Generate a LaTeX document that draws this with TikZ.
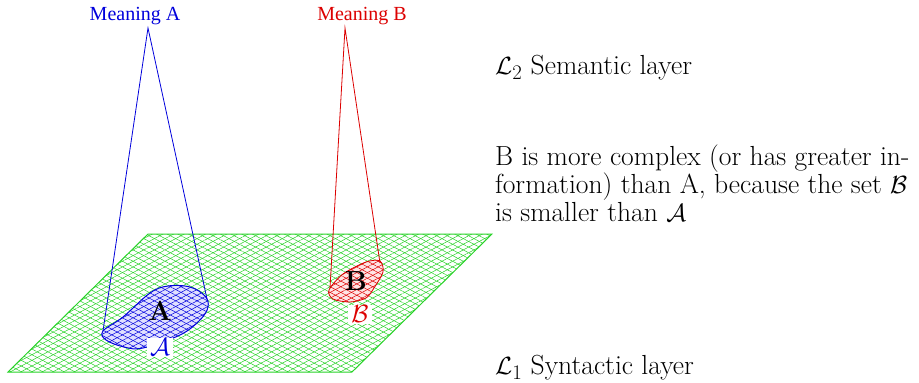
\documentclass[tikz,border=0pt]{standalone}
\usepackage{fontspec}
\newfontfamily\timesf{Liberation Serif}
\usetikzlibrary{patterns.meta}
\definecolor{mgreen}{RGB}{40,210,40}
\definecolor{mred}{RGB}{220,0,0}
\definecolor{mblue}{RGB}{0,0,220}
\tikzset{
  meaning/.style={font=\timesf\fontsize{20}{22}\selectfont, inner sep=1pt},
  body/.style={font=\fontsize{27.6}{28}\selectfont, inner sep=0pt},
  setlab/.style={fill=white, inner xsep=3pt, inner ysep=1pt, font=\fontsize{27.6}{28}\selectfont},
  cone/.style={line width=0.8pt},
  meshA/.style={pattern={Lines[angle=28,distance=5pt,line width=0.5pt]}},
  meshB/.style={pattern={Lines[angle=-28,distance=5pt,line width=0.5pt]}},
}
\begin{document}
\begin{tikzpicture}[x=1pt,y=-1pt]
\useasboundingbox (0,0) rectangle (919,383);
% plane
\coordinate (p1) at (148,234);
\coordinate (p2) at (492,234);
\coordinate (p3) at (352,372);
\coordinate (p4) at (8,372);
\fill[meshA, pattern color=mgreen] (p1) -- (p2) -- (p3) -- (p4) -- cycle;
\fill[meshB, pattern color=mgreen] (p1) -- (p2) -- (p3) -- (p4) -- cycle;
\draw[mgreen, line width=1pt] (p1) -- (p2) -- (p3) -- (p4) -- cycle;
% blob A
\coordinate (aL) at (103,331);
\coordinate (aR) at (207,299);
\path[fill=blue!12] plot[smooth cycle, tension=0.6] coordinates {(103,331) (123,317) (150,293) (168,286) (190,287) (205,296) (208,307) (200,320) (180,335) (143,348) (124,347) (106,340)};
\fill[meshA, pattern color=mblue] plot[smooth cycle, tension=0.6] coordinates {(103,331) (123,317) (150,293) (168,286) (190,287) (205,296) (208,307) (200,320) (180,335) (143,348) (124,347) (106,340)};
\fill[meshB, pattern color=mblue] plot[smooth cycle, tension=0.6] coordinates {(103,331) (123,317) (150,293) (168,286) (190,287) (205,296) (208,307) (200,320) (180,335) (143,348) (124,347) (106,340)};
\draw[mblue, line width=1pt] plot[smooth cycle, tension=0.6] coordinates {(103,331) (123,317) (150,293) (168,286) (190,287) (205,296) (208,307) (200,320) (180,335) (143,348) (124,347) (106,340)};
% blob B
\coordinate (bL) at (330,288);
\coordinate (bR) at (380,263);
\path[fill=red!10] plot[smooth cycle, tension=0.5] coordinates {(329,290) (343,274) (366,262) (380,261) (383,272) (374,288) (366,298) (350,302) (333,299)};
\fill[meshA, pattern color=mred] plot[smooth cycle, tension=0.5] coordinates {(329,290) (343,274) (366,262) (380,261) (383,272) (374,288) (366,298) (350,302) (333,299)};
\fill[meshB, pattern color=mred] plot[smooth cycle, tension=0.5] coordinates {(329,290) (343,274) (366,262) (380,261) (383,272) (374,288) (366,298) (350,302) (333,299)};
\draw[mred, line width=0.8pt] plot[smooth cycle, tension=0.5] coordinates {(329,290) (343,274) (366,262) (380,261) (383,272) (374,288) (366,298) (350,302) (333,299)};
% meaning labels and cones
\node[meaning, text=mblue] (mA) at (135,16) {Meaning A};
\node[meaning, text=mred] (mB) at (362,16) {Meaning B};
\coordinate (apA) at (148,28);
\coordinate (apB) at (345,28);
\draw[mblue, cone] (aL) -- (apA) -- (aR);
\draw[mred, cone] (bL) -- (apB) -- (bR);
% labels on blobs
\node[body] (lA) at (160,311) {\textbf{A}};
\node[setlab, text=mblue] (sA) at (160,347) {$\mathcal{A}$};
\node[body] (lB) at (356,281) {\textbf{B}};
\node[setlab, text=mred] (sB) at (360,314) {$\mathcal{B}$};
% right texts
\node[body, anchor=west] (L2) at (495,68) {$\mathcal{L}_2$ Semantic layer};
\node[body, anchor=north west, align=left] (expl) at (495,145) {B is more complex (or has greater in-\\formation) than A, because the set $\mathcal{B}$\\is smaller than $\mathcal{A}$};
\node[body, anchor=west] (L1) at (495,368) {$\mathcal{L}_1$ Syntactic layer};
\end{tikzpicture}
\end{document}
